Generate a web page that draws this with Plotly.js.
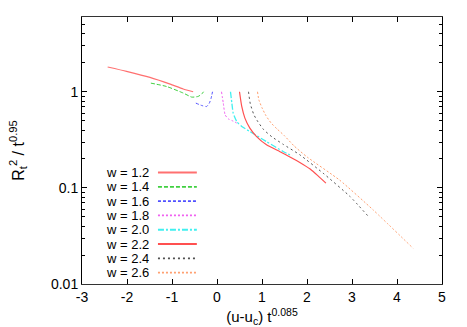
<!DOCTYPE html>
<html>
<head>
<meta charset="utf-8">
<script src="https://cdn.plot.ly/plotly-3.0.1.min.js"></script>
<style>
  html, body { margin: 0; padding: 0; background: #fff; }
  #chart { width: 467px; height: 327px; }
</style>
</head>
<body>
<div id="chart"></div>
<script>
// values
var w_labels = ['1.2', '1.4', '1.6', '1.8', '2.0', '2.2', '2.4', '2.6'];
var x_ticks = [-3, -2, -1, 0, 1, 2, 3, 4, 5];
var y_ticks = [0.01, 0.1, 1];

var x_12 = [-2.43, -2.01, -1.49, -1.04, -0.75, -0.53];
var y_12 = [1.81, 1.63, 1.41, 1.20, 1.07, 1.00];

var x_14 = [-1.47, -1.12, -0.75, -0.56, -0.42, -0.34, -0.30];
var y_14 = [1.23, 1.135, 0.97, 0.88, 0.894, 0.946, 1.00];

var x_16 = [-0.47, -0.34, -0.23, -0.17, -0.13, -0.10];
var y_16 = [0.762, 0.72, 0.703, 0.762, 0.86, 1.00];

var x_18 = [0.10, 0.14, 0.18, 0.25, 0.36, 0.47];
var y_18 = [1.00, 0.762, 0.576, 0.523, 0.495, 0.464];

var x_20 = [0.30, 0.33, 0.36, 0.44, 0.55, 0.73, 1.10, 1.47, 1.67];
var y_20 = [1.00, 0.762, 0.60, 0.49, 0.435, 0.386, 0.303, 0.239, 0.215];

var x_22 = [0.50, 0.55, 0.62, 0.73, 0.88, 1.10, 1.40, 1.62, 1.84, 2.07, 2.24, 2.42];
var y_22 = [1.00, 0.703, 0.532, 0.419, 0.342, 0.281, 0.238, 0.21, 0.184, 0.157, 0.134, 0.112];

var x_24 = [0.70, 0.74, 0.82, 0.91, 1.04, 1.22, 1.47, 1.84, 2.36, 2.96, 3.38];
var y_24 = [1.00, 0.75, 0.576, 0.487, 0.402, 0.34, 0.284, 0.221, 0.142, 0.081, 0.0495];

var x_26 = [0.90, 0.93, 1.00, 1.09, 1.20, 1.33, 1.49, 1.71, 2.00, 2.73, 3.47, 4.36];
var y_26 = [1.00, 0.825, 0.681, 0.562, 0.475, 0.412, 0.352, 0.274, 0.21, 0.12, 0.059, 0.0235];

var xs = [x_12, x_14, x_16, x_18, x_20, x_22, x_24, x_26];
var ys = [y_12, y_14, y_16, y_18, y_20, y_22, y_24, y_26];

var colors = ['#ff7070', '#40d040', '#5050ff', '#f060f0', '#40f0f0', '#ff5050', '#505050', '#ffa070'];
var dashes = ['solid', '4px,2px', '3px,2px', '2px,2px', '6px,2px,2px,2px', 'solid', '2px,3px', '2px,2px'];
var widths = [1.2, 1, 1, 1, 1.3, 1.2, 1, 1];

var font = 'Liberation Sans, Arial, sans-serif';

var data = [];
for (var i = 0; i < w_labels.length; i++) {
    data.push({
        x: xs[i],
        y: ys[i],
        mode: 'lines',
        type: 'scatter',
        name: 'w = ' + w_labels[i],
        line: { color: colors[i], dash: dashes[i], width: widths[i], shape: 'spline', smoothing: 0.5 },
        hoverinfo: 'skip'
    });
}

// gnuplot style key: text on the left, line sample on the right
var annotations = [];
var shapes = [];
for (var i = 0; i < w_labels.length; i++) {
    var py = (284 - (172.5 + 14.3 * i)) / 267;
    annotations.push({
        xref: 'paper', yref: 'paper',
        x: 0.189, y: py,
        xanchor: 'right', yanchor: 'middle',
        showarrow: false,
        height: 13,
        borderpad: 0,
        text: 'w = ' + w_labels[i],
        font: { family: font, size: 13, color: '#000' }
    });
    shapes.push({
        type: 'line', xref: 'paper', yref: 'paper',
        x0: 0.211, x1: 0.319, y0: py, y1: py,
        line: { color: colors[i], dash: dashes[i], width: widths[i] + 0.8 }
    });
}

var layout = {
    width: 467,
    height: 327,
    margin: { l: 82, r: 25, t: 17, b: 43 },
    paper_bgcolor: '#fff',
    plot_bgcolor: '#fff',
    showlegend: false,
    font: { family: font, size: 14, color: '#000' },
    xaxis: {
        range: [-3, 5],
        tickvals: x_ticks,
        ticktext: x_ticks.map(String),
        ticks: 'inside',
        ticklen: 5,
        tickcolor: '#000',
        showgrid: false,
        zeroline: false,
        showline: true,
        linecolor: '#333',
        linewidth: 1,
        mirror: 'ticks',
        tickfont: { family: font, size: 14, color: '#000' },
        title: { text: '(u-u<sub>c</sub>) t<sup>0.085</sup>', font: { family: font, size: 15 }, standoff: 10 }
    },
    yaxis: {
        type: 'log',
        range: [-2, 0.778],
        tickvals: y_ticks,
        ticktext: y_ticks.map(String),
        ticks: 'inside',
        ticklen: 5,
        tickcolor: '#000',
        minor: { ticks: 'inside', ticklen: 3, tickcolor: '#000', tickvals: [0.02, 0.03, 0.04, 0.05, 0.06, 0.07, 0.08, 0.09, 0.2, 0.3, 0.4, 0.5, 0.6, 0.7, 0.8, 0.9, 2, 3, 4, 5] },
        showgrid: false,
        zeroline: false,
        showline: true,
        linecolor: '#000',
        linewidth: 1,
        mirror: 'ticks',
        tickfont: { family: font, size: 14, color: '#000' },
        title: { text: 'R<sub>t</sub><sup>2</sup> / t<sup>0.95</sup>', font: { family: font, size: 16 }, standoff: 22 }
    },
    annotations: annotations,
    shapes: shapes
};

Plotly.newPlot('chart', data, layout, { displayModeBar: false, staticPlot: true });
</script>
</body>
</html>
